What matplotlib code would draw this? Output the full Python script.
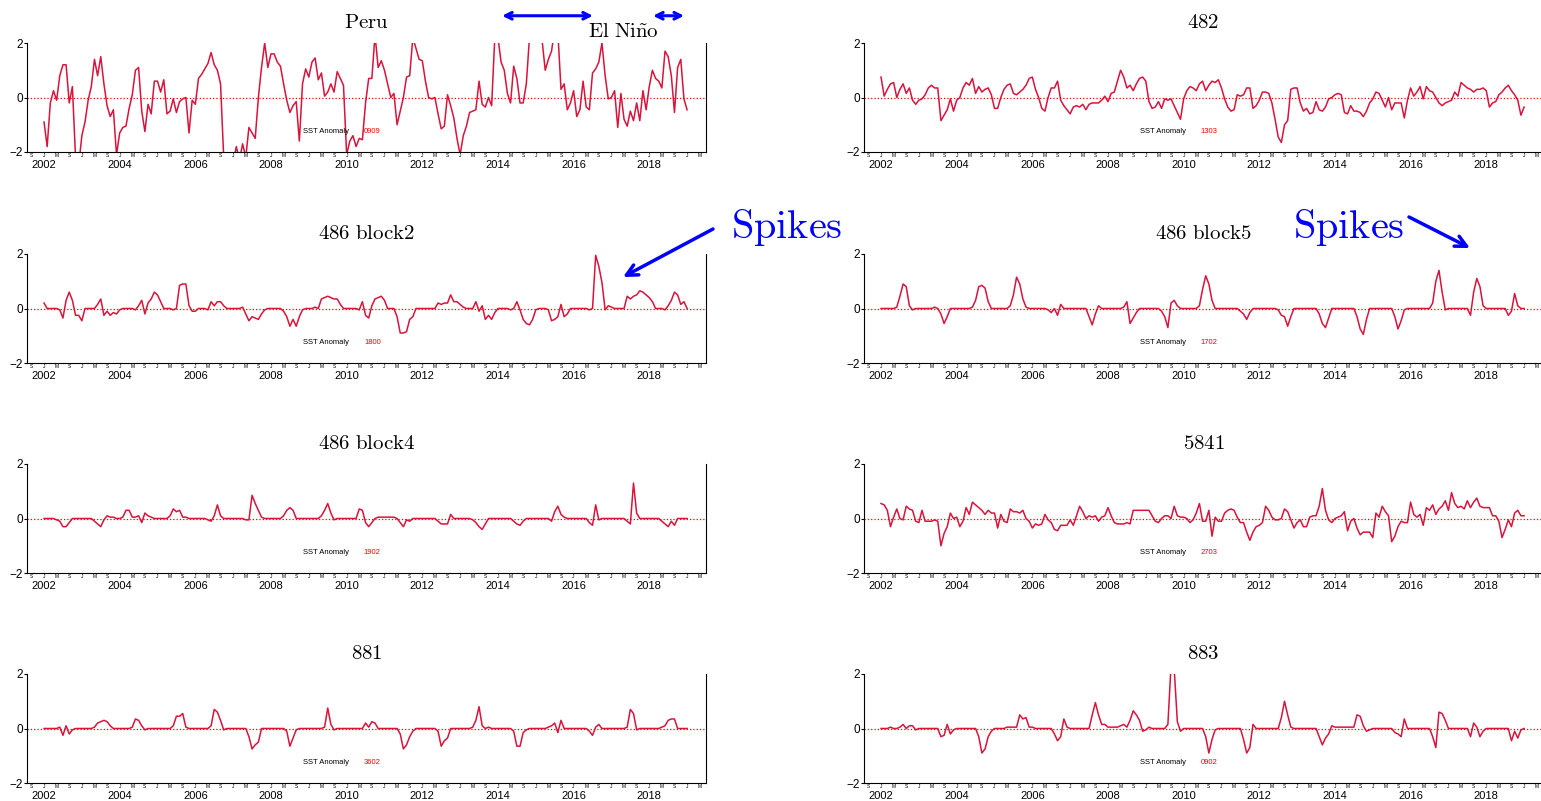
import numpy as np
import matplotlib
matplotlib.use("Agg")
import matplotlib.pyplot as plt
import matplotlib.ticker as mticker
import matplotlib.transforms as mtrans
from matplotlib.patches import FancyArrowPatch

plt.rcParams['mathtext.fontset'] = 'cm'
plt.rcParams['font.family'] = ['Liberation Sans', 'DejaVu Sans']

# monthly SST anomaly, Jan 2002 .. Jan 2019 (one row per year)
peru = [
    -0.9, -1.8, -0.2, 0.25, -0.1, 0.8, 1.2, 1.2, -0.2, 0.4, -2.2, -2.5,
    -1.4, -0.9, -0.1, 0.4, 1.4, 0.8, 1.5, 0.5, -0.3, -0.7, -0.45, -2.1,
    -1.3, -1.1, -1.05, -0.4, 0.1, 1.0, 1.1, -0.5, -1.25, -0.25, -0.6, 0.6,
    0.6, 0.2, 0.65, -0.6, -0.5, -0.05, -0.55, -0.15, -0.05, 0.0, -1.3, -0.1,
    -0.25, 0.7, 0.85, 1.05, 1.25, 1.65, 1.2, 1.0, 0.5, -2.2, -2.5, -2.3,
    -2.4, -1.8, -2.3, -1.7, -2.2, -1.1, -1.3, -1.5, 0.0, 1.1, 2.0, 1.1,
    1.6, 1.6, 1.3, 1.15, 0.5, -0.1, -0.55, -0.3, -0.15, -1.6, 0.5, 1.05,
    0.75, 1.3, 1.45, 0.65, 0.9, 0.05, 0.2, 0.5, 0.2, 0.95, 0.7, 0.45,
    -2.1, -1.6, -1.4, -1.8, -1.5, -1.55, -0.2, 0.7, 0.7, 2.3, 1.1, 1.35,
    1.0, 0.5, 0.0, 0.15, -1.0, -0.5, 0.0, 0.75, 0.8, 2.2, 1.8, 1.4,
    1.35, 0.6, 0.0, -0.05, 0.0, -0.6, -1.15, -1.05, 0.1, -0.3, -0.75, -1.5,
    -2.1, -1.4, -1.05, -0.55, -0.5, -0.45, 0.6, -0.25, -0.35, 0.0, -0.3, 2.2,
    2.2, 1.3, 1.0, 0.15, -0.2, 1.15, 0.7, -0.2, -0.2, 0.5, 2.2, 2.5,
    2.6, 2.5, 2.1, 1.0, 1.4, 1.7, 2.5, 2.4, 0.3, 0.5, -0.45, -0.2,
    0.25, -0.7, -0.45, 0.6, -0.35, -0.45, 0.9, 1.05, 1.3, 2.0, 0.8, -0.05,
    0.0, 0.25, -1.1, 0.15, -0.8, -1.05, -0.5, -0.85, -0.2, -0.85, 0.25, -0.45,
    0.4, 1.0, 0.7, 0.6, 0.35, 1.7, 1.5, 0.8, -0.55, 1.1, 1.4, -0.05,
    -0.45,
]

s482 = [
    0.75, 0.05, 0.3, 0.5, 0.55, 0.0, 0.3, 0.5, 0.15, 0.35, -0.1, -0.25,
    -0.1, -0.05, 0.1, 0.35, 0.45, 0.35, 0.35, -0.85, -0.65, -0.45, -0.05, -0.5,
    -0.1, 0.0, 0.35, 0.55, 0.45, 0.7, 0.15, 0.4, 0.2, 0.3, 0.35, 0.1,
    -0.4, -0.4, 0.0, 0.3, 0.45, 0.5, 0.15, 0.1, 0.2, 0.3, 0.45, 0.7,
    0.75, 0.3, 0.0, -0.4, -0.5, 0.0, 0.35, 0.35, 0.6, -0.1, -0.3, -0.45,
    -0.6, -0.35, -0.3, -0.35, -0.25, -0.45, -0.25, -0.2, -0.2, -0.2, -0.1, 0.05,
    -0.15, 0.15, 0.2, 0.6, 1.0, 0.75, 0.35, 0.45, 0.25, 0.5, 0.7, 0.75,
    0.6, -0.15, -0.4, -0.35, -0.15, -0.4, -0.05, -0.1, -0.05, -0.3, -0.55, -0.8,
    -0.05, 0.25, 0.4, 0.35, 0.25, 0.5, 0.6, 0.25, 0.45, 0.6, 0.55, 0.65,
    0.35, -0.05, -0.35, -0.5, -0.45, 0.1, 0.05, 0.1, 0.35, 0.35, -0.4, -0.3,
    -0.1, 0.2, 0.2, 0.15, -0.2, -0.8, -1.45, -1.65, -1.0, -0.85, 0.3, 0.35,
    0.35, -0.2, -0.5, -0.4, -0.6, -0.55, -0.15, -0.45, -0.5, -0.35, -0.05, 0.0,
    0.1, 0.15, 0.1, -0.55, -0.6, -0.3, -0.5, -0.5, -0.55, -0.7, -0.5, -0.2,
    -0.05, 0.2, 0.15, -0.1, -0.35, 0.0, -0.45, -0.2, -0.2, -0.2, -0.75, -0.1,
    0.35, 0.05, 0.2, 0.4, -0.05, 0.4, 0.25, 0.2, 0.0, -0.2, -0.3, -0.2,
    -0.15, -0.1, 0.2, 0.05, 0.55, 0.45, 0.35, 0.3, 0.2, 0.3, 0.3, 0.35,
    0.25, -0.35, -0.2, -0.15, 0.1, 0.2, 0.35, 0.45, 0.25, 0.1, -0.1, -0.65,
    -0.35,
]

block2 = [
    0.2, 0.0, 0.0, 0.0, 0.0, -0.05, -0.35, 0.3, 0.6, 0.3, -0.25, -0.25,
    -0.45, 0.0, 0.0, 0.0, 0.0, 0.15, 0.35, -0.25, -0.1, -0.25, -0.15, -0.2,
    -0.05, 0.0, 0.0, 0.0, 0.0, -0.05, 0.1, 0.3, -0.2, 0.2, 0.35, 0.6,
    0.5, 0.25, 0.0, 0.0, 0.0, -0.05, 0.0, 0.85, 0.9, 0.9, 0.1, -0.1,
    -0.1, 0.0, 0.0, 0.0, -0.05, 0.25, 0.1, 0.25, 0.25, 0.1, 0.0, 0.0,
    0.0, 0.0, 0.0, 0.05, -0.2, -0.45, -0.3, -0.35, -0.4, -0.2, -0.05, 0.0,
    0.0, 0.0, 0.0, 0.0, -0.1, -0.3, -0.65, -0.4, -0.65, -0.3, -0.05, 0.0,
    0.0, 0.0, 0.05, 0.0, 0.35, 0.4, 0.45, 0.4, 0.35, 0.35, 0.15, 0.0,
    0.0, 0.0, 0.0, 0.0, -0.05, 0.25, -0.25, -0.35, 0.1, 0.35, 0.4, 0.45,
    0.3, 0.0, 0.0, 0.0, -0.3, -0.9, -0.9, -0.85, -0.4, -0.3, 0.0, 0.0,
    0.0, 0.0, 0.0, 0.0, 0.0, 0.2, 0.15, 0.2, 0.2, 0.5, 0.25, 0.25,
    0.15, 0.05, 0.0, 0.0, 0.0, 0.25, -0.1, 0.1, -0.4, -0.25, -0.4, -0.15,
    0.0, 0.0, 0.0, 0.0, -0.05, 0.0, 0.25, -0.05, -0.4, -0.55, -0.6, -0.4,
    -0.05, 0.0, 0.0, 0.0, -0.05, -0.45, -0.4, -0.3, 0.15, -0.3, -0.2, 0.0,
    0.0, 0.0, 0.0, 0.0, 0.0, -0.05, 0.0, 1.95, 1.55, 0.95, -0.05, 0.1,
    0.05, 0.0, 0.0, 0.0, 0.0, 0.45, 0.35, 0.45, 0.5, 0.65, 0.6, 0.5,
    0.4, 0.25, 0.0, 0.0, 0.0, -0.05, 0.1, 0.3, 0.6, 0.5, 0.15, 0.25,
    0.0,
]

block5 = [
    0.0, 0.0, 0.0, 0.0, 0.0, 0.05, 0.45, 0.9, 0.8, 0.1, -0.05, 0.0,
    0.0, 0.0, 0.0, 0.0, 0.0, 0.05, 0.0, -0.2, -0.55, -0.3, 0.0, 0.0,
    0.0, 0.0, 0.0, 0.0, 0.0, 0.05, 0.3, 0.8, 0.85, 0.75, 0.25, 0.0,
    0.0, 0.0, 0.0, 0.0, 0.0, 0.1, 0.5, 1.15, 0.9, 0.35, 0.05, 0.0,
    0.0, 0.0, 0.0, 0.0, 0.0, -0.05, -0.15, 0.0, -0.25, 0.15, 0.0, 0.0,
    0.0, 0.0, 0.0, 0.0, 0.0, 0.0, -0.3, -0.6, -0.2, 0.1, 0.0, 0.0,
    0.0, 0.0, 0.0, 0.0, 0.0, 0.05, 0.25, -0.55, -0.35, -0.15, 0.0, 0.0,
    0.0, 0.0, 0.0, 0.0, 0.0, -0.1, -0.3, -0.7, 0.2, 0.3, 0.1, 0.0,
    0.0, 0.0, 0.0, 0.0, 0.0, 0.1, 0.7, 1.2, 0.9, 0.3, 0.0, 0.0,
    0.0, 0.0, 0.0, 0.0, 0.0, 0.0, -0.1, -0.2, -0.4, -0.15, 0.0, 0.0,
    0.0, 0.0, 0.0, 0.0, 0.0, 0.0, -0.05, -0.25, -0.3, -0.65, -0.3, 0.0,
    0.0, 0.0, 0.0, 0.0, 0.0, 0.0, 0.0, -0.2, -0.55, -0.7, -0.35, 0.0,
    0.0, 0.0, 0.0, 0.0, 0.0, 0.0, 0.0, -0.3, -0.75, -0.95, -0.4, 0.0,
    0.0, 0.0, 0.0, 0.0, 0.0, 0.0, 0.0, -0.3, -0.75, -0.45, -0.05, 0.0,
    0.0, 0.0, 0.0, 0.0, 0.0, 0.0, 0.0, 0.2, 1.0, 1.4, 0.6, -0.05,
    0.0, 0.0, 0.0, 0.0, 0.0, 0.0, 0.0, -0.25, 0.6, 1.1, 0.8, 0.1,
    0.0, 0.0, 0.0, 0.0, 0.0, 0.0, 0.0, -0.25, -0.1, 0.55, 0.1, 0.0,
    0.0,
]

block4 = [
    0.0, 0.0, 0.0, 0.0, -0.05, -0.1, -0.3, -0.3, -0.15, 0.0, 0.0, 0.0,
    0.0, 0.0, 0.0, 0.0, -0.1, -0.2, -0.3, -0.05, 0.1, 0.05, 0.05, 0.0,
    0.0, 0.05, 0.3, 0.3, 0.05, 0.05, 0.1, -0.15, 0.2, 0.1, 0.05, 0.0,
    0.0, 0.0, 0.0, 0.0, 0.1, 0.35, 0.25, 0.3, 0.05, 0.05, 0.0, 0.0,
    0.0, 0.0, 0.0, 0.0, -0.05, -0.1, 0.1, 0.5, 0.1, 0.0, 0.0, 0.0,
    0.0, 0.0, 0.0, 0.0, -0.05, -0.05, 0.85, 0.55, 0.3, 0.05, 0.0, 0.0,
    0.0, 0.0, 0.0, 0.0, 0.1, 0.3, 0.4, 0.3, 0.0, 0.0, 0.0, 0.0,
    0.0, 0.0, 0.0, 0.0, 0.1, 0.3, 0.55, 0.2, -0.05, 0.0, 0.0, 0.0,
    0.0, 0.0, 0.0, 0.0, 0.35, 0.3, -0.15, -0.3, -0.15, 0.0, 0.05, 0.05,
    0.05, 0.05, 0.05, 0.05, 0.0, -0.15, -0.3, -0.05, -0.1, 0.0, 0.0, 0.0,
    0.0, 0.0, 0.0, 0.0, 0.0, -0.1, -0.2, -0.2, -0.2, 0.15, 0.0, 0.0,
    0.0, 0.0, 0.0, 0.0, -0.05, -0.15, -0.3, -0.4, -0.2, 0.0, 0.0, 0.0,
    0.0, 0.0, 0.0, 0.0, 0.0, -0.1, -0.2, -0.25, -0.1, 0.0, 0.0, 0.0,
    0.0, 0.0, 0.0, 0.0, 0.0, -0.1, 0.25, 0.45, 0.15, 0.05, 0.0, 0.0,
    0.0, 0.0, 0.0, 0.0, 0.0, -0.15, -0.25, 0.5, -0.05, 0.0, 0.0, 0.0,
    0.0, 0.0, 0.0, 0.0, 0.0, -0.1, -0.2, 1.3, 0.2, 0.0, 0.0, 0.0,
    0.0, 0.0, 0.0, 0.0, -0.1, -0.2, -0.3, -0.1, -0.25, 0.0, 0.0, 0.0,
    0.0,
]

s5841 = [
    0.55, 0.5, 0.3, -0.3, 0.05, 0.35, 0.0, -0.05, 0.45, 0.35, 0.3, -0.1,
    -0.15, 0.3, -0.1, -0.1, -0.1, -0.05, -0.1, -1.0, -0.55, -0.3, 0.2, 0.0,
    0.05, -0.3, -0.1, 0.4, 0.15, 0.6, 0.5, 0.4, 0.3, 0.15, 0.3, 0.2,
    0.2, -0.35, 0.15, -0.1, -0.15, 0.35, 0.25, 0.25, 0.2, 0.3, 0.0, -0.1,
    -0.35, -0.2, -0.25, -0.2, 0.15, -0.05, -0.15, -0.4, -0.45, -0.25, -0.25, -0.25,
    -0.05, -0.25, 0.1, 0.45, 0.25, 0.0, 0.1, 0.05, 0.1, -0.1, 0.05, 0.1,
    0.4, 0.1, -0.15, -0.2, -0.2, -0.2, -0.15, -0.2, 0.3, 0.3, 0.3, 0.3,
    0.3, 0.3, 0.1, -0.1, -0.15, 0.0, 0.1, 0.1, 0.0, 0.45, 0.1, 0.05,
    0.05, 0.0, -0.15, -0.05, 0.2, 0.55, -0.1, -0.1, 0.3, -0.65, 0.05, -0.1,
    -0.1, 0.2, 0.3, 0.35, 0.3, 0.05, -0.15, -0.15, -0.5, -0.8, -0.5, -0.3,
    -0.25, -0.15, 0.45, 0.3, 0.05, -0.05, -0.05, 0.0, 0.35, 0.25, -0.05, -0.35,
    -0.15, -0.05, -0.3, -0.3, 0.05, 0.1, 0.1, 0.45, 1.1, 0.3, -0.05, -0.15,
    0.0, 0.05, 0.1, 0.25, -0.45, -0.1, 0.0, -0.35, -0.6, -0.5, -0.5, -0.5,
    -0.7, 0.2, 0.05, 0.45, 0.25, 0.1, -0.85, -0.65, -0.3, -0.1, -0.15, -0.15,
    0.6, 0.15, 0.05, 0.15, -0.25, 0.4, 0.3, 0.5, 0.15, 0.35, 0.45, 0.65,
    0.3, 0.95, 0.55, 0.4, 0.45, 0.35, 0.65, 0.4, 0.6, 0.75, 0.45, 0.4,
    0.4, 0.4, 0.1, 0.1, -0.1, -0.7, -0.4, -0.05, -0.3, 0.2, 0.3, 0.1,
    0.1,
]

s881 = [
    0.0, 0.0, 0.0, 0.0, 0.0, 0.05, -0.25, 0.1, -0.2, -0.05, 0.0, 0.0,
    0.0, 0.0, 0.0, 0.0, 0.05, 0.2, 0.25, 0.3, 0.25, 0.1, 0.0, 0.0,
    0.0, 0.0, 0.0, 0.0, 0.05, 0.35, 0.3, 0.1, -0.05, 0.0, 0.0, 0.0,
    0.0, 0.0, 0.0, 0.0, 0.0, 0.1, 0.45, 0.45, 0.55, 0.05, 0.0, 0.0,
    0.0, 0.0, 0.0, 0.0, 0.0, 0.1, 0.7, 0.6, 0.3, -0.05, 0.0, 0.0,
    0.0, 0.0, 0.0, 0.0, 0.0, -0.3, -0.75, -0.6, -0.5, 0.0, 0.0, 0.0,
    0.0, 0.0, 0.0, 0.0, 0.0, -0.1, -0.65, -0.35, -0.05, 0.0, 0.0, 0.0,
    0.0, 0.0, 0.0, 0.0, 0.0, 0.05, 0.75, 0.15, -0.05, 0.0, 0.0, 0.0,
    0.0, 0.0, 0.0, 0.0, 0.0, 0.0, 0.2, 0.05, 0.25, 0.2, 0.0, 0.0,
    0.0, 0.0, 0.0, 0.0, 0.0, -0.2, -0.75, -0.6, -0.3, -0.1, 0.0, 0.0,
    0.0, 0.0, 0.0, 0.0, 0.0, -0.1, -0.65, -0.45, -0.35, 0.0, 0.0, 0.0,
    0.0, 0.0, 0.0, 0.0, 0.05, 0.3, 0.8, 0.1, 0.0, 0.05, 0.0, 0.0,
    0.0, 0.0, 0.0, 0.0, 0.0, -0.1, -0.65, -0.65, -0.15, -0.05, 0.0, 0.0,
    0.0, 0.0, 0.0, 0.0, 0.05, 0.1, 0.2, -0.15, 0.3, 0.0, 0.0, 0.0,
    0.0, 0.0, 0.0, 0.0, 0.0, -0.1, -0.25, 0.05, 0.15, 0.0, 0.0, 0.0,
    0.0, 0.0, 0.0, 0.0, 0.0, 0.05, 0.7, 0.55, -0.05, 0.0, 0.0, 0.0,
    0.0, 0.0, 0.0, 0.0, 0.05, 0.1, 0.3, 0.35, 0.35, 0.0, 0.0, 0.0,
    0.0,
]

s883 = [
    0.0, 0.0, 0.0, 0.05, 0.0, 0.0, 0.05, 0.15, 0.0, 0.1, 0.1, -0.05,
    0.0, 0.0, 0.0, 0.0, 0.0, 0.0, 0.0, -0.3, -0.25, 0.15, -0.2, -0.05,
    0.0, 0.0, 0.0, 0.0, 0.0, 0.0, 0.0, -0.3, -0.9, -0.75, -0.3, -0.1,
    0.0, 0.0, 0.0, 0.0, 0.05, 0.05, 0.05, 0.05, 0.5, 0.35, 0.4, 0.05,
    0.05, 0.0, 0.0, 0.0, 0.0, 0.0, 0.0, -0.2, -0.45, -0.3, 0.35, 0.05,
    0.0, 0.0, 0.0, 0.0, 0.0, 0.0, 0.0, 0.5, 0.95, 0.5, 0.15, 0.15,
    0.05, 0.05, 0.05, 0.05, 0.1, 0.15, 0.05, 0.3, 0.65, 0.5, 0.3, -0.1,
    -0.05, 0.05, 0.0, 0.0, 0.0, 0.0, 0.0, 0.15, 2.3, 2.2, 0.25, -0.1,
    0.0, 0.0, 0.0, 0.0, 0.0, 0.0, 0.0, -0.3, -0.9, -0.4, -0.05, 0.0,
    0.0, 0.0, 0.0, 0.0, 0.0, 0.0, 0.0, -0.4, -0.9, -0.7, 0.15, 0.0,
    0.0, 0.0, 0.0, 0.0, 0.0, 0.0, 0.0, 0.4, 1.0, 0.5, 0.05, 0.0,
    0.0, 0.0, 0.0, 0.0, 0.0, 0.0, 0.0, -0.3, -0.6, -0.35, -0.2, 0.1,
    0.05, 0.05, 0.05, 0.05, 0.05, 0.05, 0.05, 0.5, 0.45, 0.1, -0.1, -0.05,
    0.0, 0.0, 0.0, 0.0, 0.0, 0.0, 0.0, -0.15, -0.2, -0.3, 0.35, 0.0,
    0.0, 0.0, 0.0, 0.0, 0.0, 0.0, 0.0, -0.3, -0.7, 0.6, 0.55, 0.3,
    0.0, 0.0, 0.0, 0.0, 0.0, 0.0, 0.0, -0.3, 0.2, 0.05, -0.3, -0.1,
    0.0, 0.0, 0.0, 0.0, 0.0, 0.0, 0.0, 0.0, -0.45, -0.1, -0.35, -0.05,
    0.0,
]

titles = ['Peru', '482', '486 block2', '486 block5', '486 block4', '5841', '881', '883']
codes = ['0909', '1303', '1800', '1702', '1902', '2703', '3602', '0902']
series = [peru, s482, block2, block5, block4, s5841, s881, s883]

start_year = 2002
x = start_year + np.arange(len(peru)) / 12.0

W, H = 1541, 801
fig = plt.figure(figsize=(W / 100, H / 100), dpi=100)

col_x = [27, 864]
row_y = [43, 254, 464, 674]
ax_w, ax_h = 679, 109
line_col = '#d8143c'

month_tag = {0: 'J', 4: 'M', 8: 'S'}


def minor_fmt(v, pos):
    m = int(round((v - 2000) * 12)) % 12
    return month_tag.get(m, '')


axes = []
for i, (title, code, vals) in enumerate(zip(titles, codes, series)):
    r, c = divmod(i, 2)
    x0, y0 = col_x[c], row_y[r]
    ax = fig.add_axes([x0 / W, 1 - (y0 + ax_h) / H, ax_w / W, ax_h / H])
    ax.plot(x, vals, color=line_col, lw=1.1)
    ax.axhline(0, color='red', ls=':', lw=0.9)
    ax.set_xlim(2001.55, 2019.5)
    ax.set_ylim(-2, 2)
    ax.set_yticks([-2, 0, 2])
    ax.set_yticklabels(['\u22122', '0', '2'])
    ax.spines['top'].set_visible(False)
    ax.set_xticks(np.arange(2002, 2019, 2))
    ax.set_xticklabels([str(y) for y in range(2002, 2019, 2)])
    ax.xaxis.set_minor_locator(mticker.FixedLocator(np.arange(2001 + 8 / 12, 2019.5, 1 / 3)))
    ax.xaxis.set_minor_formatter(mticker.FuncFormatter(minor_fmt))
    ax.xaxis.remove_overlapping_locs = False
    ax.tick_params(axis='x', which='major', length=0, pad=6, labelsize=8)
    ax.tick_params(axis='x', which='minor', length=0, pad=1, labelsize=3.5)
    ax.tick_params(axis='y', length=2, pad=1, labelsize=8.5)
    ax.set_title('$\\mathrm{' + title.replace(' ', '\\ ') + '}$', fontsize=15, pad=11)
    ax.text(2009.45, -1.23, 'SST Anomaly', fontsize=5.5, ha='center', va='center')
    ax.text(2010.68, -1.23, code, fontsize=5.5, color='red', ha='center', va='center')
    axes.append(ax)

# El Nino periods over the Peru panel
ax0 = axes[0]
tr = mtrans.blended_transform_factory(ax0.transData, ax0.transAxes)
ax0.text(2017.33, 1.11, r'$\mathrm{El\ Ni\tilde{n}o}$', transform=tr, fontsize=15,
         ha='center', va='center')
for a, b in [(2014.11, 2016.51), (2018.10, 2018.92)]:
    ax0.annotate('', xy=(b, 1.25), xytext=(a, 1.25), xycoords=tr, textcoords=tr,
                 arrowprops=dict(arrowstyle='<->', color='blue', lw=2.2, mutation_scale=12,
                                 shrinkA=0, shrinkB=0),
                 annotation_clip=False)

# "Spikes" call-outs, drawn on the figure above all panels
fig.text(787 / W, 1 - 228 / H, r'$\mathrm{Spikes}$', fontsize=29, color='blue',
         ha='center', va='center')
fig.text(1349 / W, 1 - 228 / H, r'$\mathrm{Spikes}$', fontsize=29, color='blue',
         ha='center', va='center')
for tail, head in [((713, 229), (623, 277)), ((1409, 217), (1470, 248))]:
    arr = FancyArrowPatch((tail[0] / W, 1 - tail[1] / H), (head[0] / W, 1 - head[1] / H),
                          transform=fig.transFigure, arrowstyle='->', color='blue',
                          lw=2.5, mutation_scale=20, shrinkA=0, shrinkB=0, zorder=10)
    fig.add_artist(arr)

fig.savefig('out.png', dpi=100)
